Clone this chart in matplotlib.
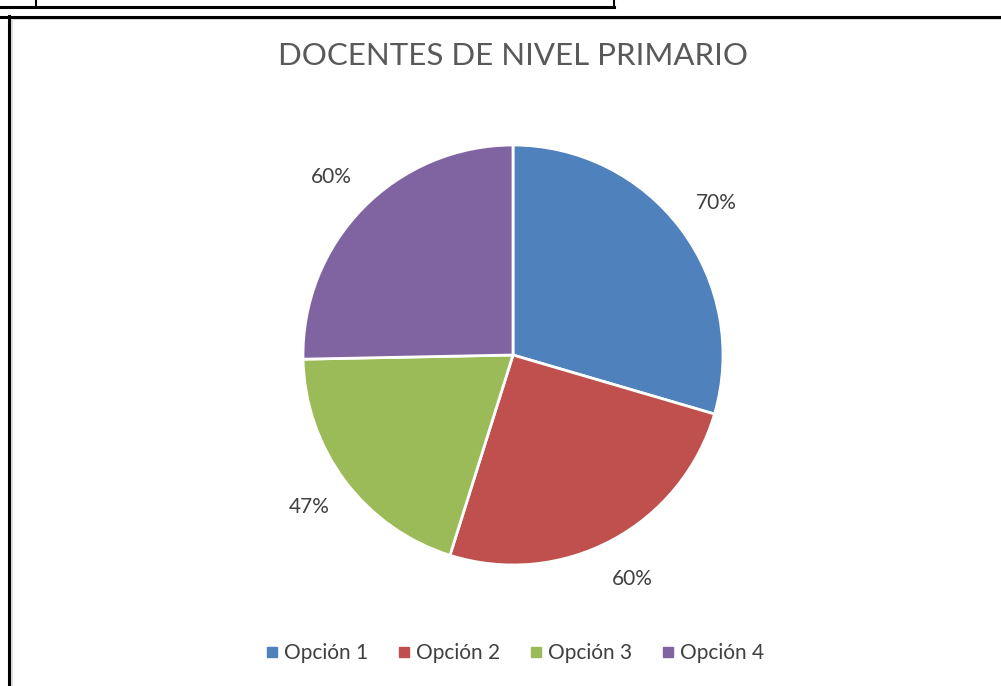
import matplotlib.pyplot as plt
from matplotlib.lines import Line2D

categorias = ["Opción 1", "Opción 2", "Opción 3", "Opción 4"]
valores = [70, 60, 47, 60]
etiquetas = ["70%", "60%", "47%", "60%"]
colores = ["#4F81BD", "#C0504D", "#9BBB59", "#8064A2"]
titulo = "DOCENTES DE NIVEL PRIMARIO"

plt.rcParams['font.family'] = ['Lato', 'DejaVu Sans']

W, H = 1001, 686
fig = plt.figure(figsize=(W / 100, H / 100), dpi=100)

# table borders of the document around the chart
def hline(y, x0, x1, lw, color="black"):
    fig.add_artist(Line2D([x0 / W, x1 / W], [1 - y / H, 1 - y / H], color=color, lw=lw))

def vline(x, y0, y1, lw, color="black"):
    fig.add_artist(Line2D([x / W, x / W], [1 - y0 / H, 1 - y1 / H], color=color, lw=lw))

hline(7, 0, 614, 2.2)
vline(36, 0, 7, 1.5)
vline(614, 0, 7, 1.5)
hline(19, 10, W, 1.5, "#dddddd")
vline(11.5, 17, H, 1.5, "#dddddd")
hline(16.5, 0, W, 2.2)
vline(9, 16, H, 2.2)

# pie
cx, cy, r = 513, 355, 210
ax = fig.add_axes([(cx - r) / W, (H - cy - r) / H, 2 * r / W, 2 * r / H])
wedges, textos = ax.pie(valores, labels=etiquetas, colors=colores, startangle=90,
                        counterclock=False, labeldistance=1.21,
                        wedgeprops=dict(edgecolor="white", linewidth=2),
                        textprops=dict(fontsize=15, color="#404040"))
for t in textos:
    t.set_ha("center")
    t.set_va("center")
ax.set_xlim(-1, 1)
ax.set_ylim(-1, 1)
ax.set_aspect("equal")
ax.axis("off")

fig.text(cx / W, 1 - 56 / H, titulo, ha="center", va="center", fontsize=22.5, color="#595959")

handles = [Line2D([], [], marker="s", ls="", color=c, markersize=7) for c in colores]
fig.legend(handles, categorias, loc="center", bbox_to_anchor=(cx / W, 1 - 653 / H), ncol=4,
           frameon=False, fontsize=15, labelcolor="#404040", handletextpad=0.1,
           columnspacing=1.2, handlelength=1.0)

fig.savefig("out.png", dpi=100, facecolor="white")
